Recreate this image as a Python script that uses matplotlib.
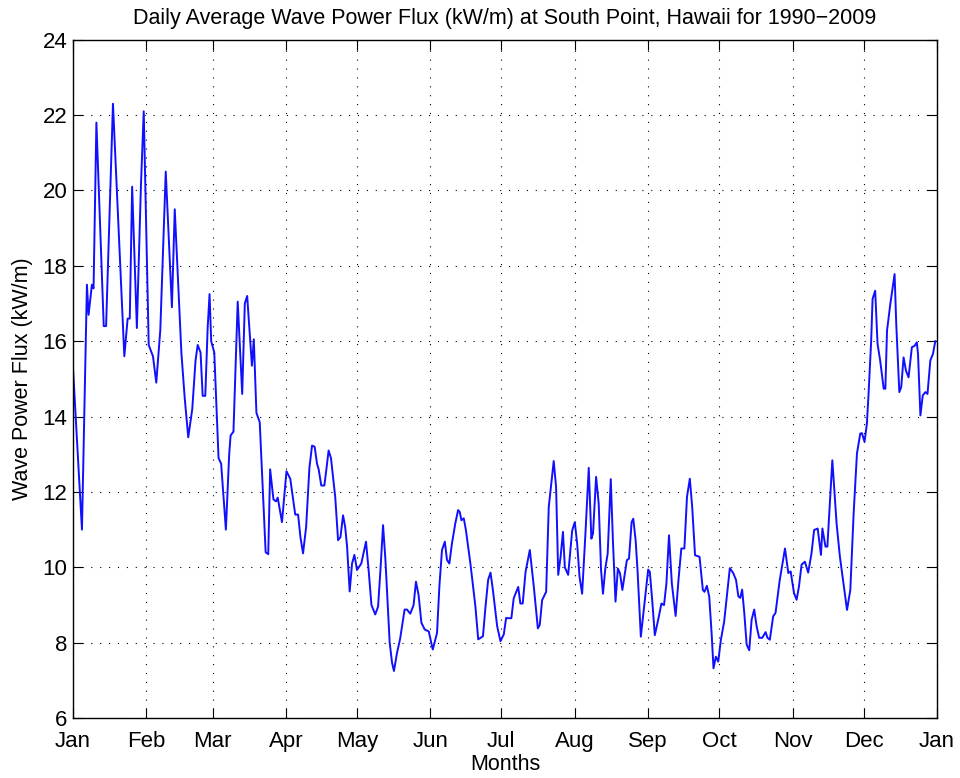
import numpy as np
import matplotlib
matplotlib.use("Agg")
import matplotlib.pyplot as plt

plt.rcParams['font.family'] = ['Liberation Sans Narrow', 'Liberation Sans', 'DejaVu Sans']

# day of year (0 = Jan 1) and daily average wave power flux (kW/m)
day = [0, 3.8, 5.2, 5.9, 6.6, 8.0, 8.7, 9.9, 13, 14, 16.9, 21.7, 23.1, 24, 25, 27,
       28.7, 29.9, 32, 33.8, 35.2, 36.9, 39.2, 41.8, 43, 45.8, 47.2, 48.7, 50.4,
       51.8, 52.7, 53.9, 54.8, 55.9, 56.9, 57.7, 58.4, 59.7, 61.5, 62.6, 64.6, 66,
       66.6, 67.8, 69.6, 71.5, 72.6, 73.6, 75.6, 76.4, 77.5, 78.9, 81.4, 82.5,
       83.3, 84.7, 85.8, 86.5, 88.3, 90.2, 91.8, 93.9, 95.1, 96.1, 97.2, 98.5,
       99.9, 101, 102.1, 103.1, 103.8, 104.9, 106.2, 107, 108, 109, 110.8, 112,
       113, 114.1, 115, 115.8, 116.9, 117.9, 118.9, 120, 121.8, 123.8, 124.9,
       126.1, 127.7, 128.9, 129.9, 131, 132, 133.8, 134.8, 135.6, 136.9, 138.2,
       140.1, 141.1, 142.5, 143.9, 144.9, 146, 147.2, 148.6, 150.3, 152, 153.8,
       154.8, 155.9, 157.1, 158, 159, 160.1, 161.5, 162.7, 163.4, 164.1, 165.1,
       166, 167.9, 170, 171.2, 173.2, 174.3, 175.4, 176.4, 177.4, 179.2, 180.6,
       182, 183, 183.8, 185.2, 186.2, 188.1, 189, 190, 191.2, 193, 194.7, 196.4,
       197.2, 198.2, 199.9, 201, 203.1, 204.1, 205, 206, 207, 207.8, 209.2,
       210.9, 212, 213, 214, 215.1, 216.5, 217.9, 219, 219.7, 221, 222.1, 223.1,
       223.9, 224.9, 225.9, 227.2, 228.1, 229.2, 230.2, 231.1, 232.1, 234,
       234.9, 236, 236.7, 237.7, 238.5, 239.9, 241.3, 243, 243.7, 244.7, 245.8,
       247.2, 248.6, 249.7, 250.7, 251.8, 253, 254.6, 255.8, 257, 258.3, 259.4,
       260.6, 261.6, 262.8, 264.7, 266.1, 266.8, 267.8, 268.8, 269.8, 270.6,
       271.6, 272.6, 273.7, 275.1, 277.5, 278.9, 280.1, 281.1, 281.9, 282.7,
       283.6, 284.6, 285.7, 286.7, 287.8, 288.8, 289.9, 291.2, 292.6, 293.4,
       294.4, 295.8, 296.8, 298.6, 300.8, 302.2, 303.2, 304.6, 305.7, 306.7,
       307.8, 309.2, 310.6, 312, 313.1, 314.6, 316, 316.6, 317.9, 318.7, 320.8,
       322.6, 324, 327, 328.4, 329.8, 331.2, 332.6, 333.3, 334.4, 335.4, 336.1,
       337.2, 337.8, 338.9, 339.9, 341, 342.5, 343.2, 343.9, 345.3, 347.1,
       347.8, 349.1, 349.9, 350.9, 351.9, 353, 354.4, 355.6, 356.5, 357, 358,
       359, 360.1, 361, 362.2, 363.3, 364.3]
flux = [15.3, 11.0, 15.3, 17.5, 16.7, 17.5, 17.4, 21.8, 16.4, 16.4, 22.3, 15.6,
        16.6, 16.6, 20.1, 16.35, 20.1, 22.1, 15.9, 15.6, 14.9, 16.3, 20.5, 16.9,
        19.5, 15.7, 14.5, 13.45, 14.2, 15.5, 15.9, 15.7, 14.55, 14.55, 16.35,
        17.25, 16.0, 15.7, 12.9, 12.75, 11.0, 13.0, 13.5, 13.6, 17.05, 14.6,
        17.0, 17.2, 15.35, 16.05, 14.1, 13.85, 10.4, 10.35, 12.6, 11.8, 11.75,
        11.85, 11.2, 12.55, 12.35, 11.4, 11.4, 10.8, 10.37, 11.07, 12.65, 13.23,
        13.2, 12.75, 12.6, 12.17, 12.17, 12.57, 13.1, 12.9, 11.86, 10.72, 10.8,
        11.38, 11.07, 10.55, 9.36, 10.1, 10.33, 9.93, 10.1, 10.68, 9.93, 9.0,
        8.75, 8.96, 9.93, 11.12, 10.2, 8.0, 7.47, 7.25, 7.73, 8.1, 8.88, 8.88,
        8.77, 9.0, 9.62, 9.27, 8.53, 8.35, 8.3, 7.82, 8.26, 9.5, 10.46, 10.68,
        10.2, 10.1, 10.63, 11.16, 11.52, 11.47, 11.25, 11.3, 10.99, 10.1, 8.97,
        8.09, 8.17, 8.97, 9.67, 9.86, 9.4, 8.44, 8.04, 8.22, 8.66, 8.65, 8.65,
        9.18, 9.48, 9.04, 9.04, 9.88, 10.46, 9.48, 8.38, 8.47, 9.13, 9.35, 11.6,
        12.82, 12.13, 9.8, 10.28, 10.94, 10.0, 9.8, 10.98, 11.2, 10.63, 9.75,
        9.3, 10.9, 12.64, 10.76, 10.9, 12.4, 11.69, 9.93, 9.3, 9.97, 10.37,
        12.34, 10.72, 9.09, 9.97, 9.84, 9.4, 10.19, 10.23, 11.2, 11.29, 10.72,
        9.93, 8.16, 8.96, 9.94, 9.88, 9.13, 8.2, 8.6, 9.04, 9.0, 9.57, 10.85,
        9.57, 8.71, 9.66, 10.5, 10.5, 11.87, 12.35, 11.6, 10.32, 10.28, 9.4,
        9.35, 9.51, 9.22, 8.25, 7.32, 7.63, 7.5, 8.07, 8.56, 9.98, 9.85, 9.67,
        9.23, 9.19, 9.41, 8.79, 7.95, 7.8, 8.61, 8.88, 8.44, 8.13, 8.13, 8.28,
        8.13, 8.08, 8.7, 8.79, 9.67, 10.5, 9.85, 9.89, 9.32, 9.14, 9.49, 10.07,
        10.15, 9.86, 10.37, 10.99, 11.03, 10.33, 11.03, 10.55, 10.55, 12.84,
        11.16, 10.28, 8.87, 9.4, 11.43, 13.02, 13.55, 13.56, 13.33, 13.81, 14.6,
        16.0, 17.12, 17.34, 15.93, 15.49, 14.74, 14.74, 16.28, 16.99, 17.78,
        16.46, 14.65, 14.78, 15.57, 15.22, 15.04, 15.84, 15.88, 15.97, 15.66,
        14.03, 14.56, 14.65, 14.6, 15.49, 15.66, 16.0]

month_starts = [0, 31, 59, 90, 120, 151, 181, 212, 243, 273, 304, 334, 365]
month_labels = ['Jan', 'Feb', 'Mar', 'Apr', 'May', 'Jun', 'Jul', 'Aug', 'Sep',
                'Oct', 'Nov', 'Dec', 'Jan']
yticks = np.arange(6, 25, 2)

fig = plt.figure(figsize=(9.6, 7.78), dpi=100)
ax = fig.add_axes([0.076, 0.077, 0.900, 0.872])

ax.plot(day, flux, color='#1010ff', linewidth=1.4)

ax.set_xlim(0, 365)
ax.set_ylim(6, 24)
ax.set_xticks(month_starts)
ax.set_xticklabels(month_labels)
ax.set_yticks(yticks)
ax.tick_params(axis='both', direction='in', length=7, width=0.8, top=True,
               right=True, labelsize=16, colors='black')
ax.tick_params(axis='x', pad=9)
ax.tick_params(axis='y', pad=4)
ax.grid(True, color='black', linestyle=(0, (1, 7)), linewidth=0.8)
for s in ax.spines.values():
    s.set_linewidth(1.0)

ax.set_title('Daily Average Wave Power Flux (kW/m) at South Point, Hawaii for 1990\u22122009',
             fontsize=15.5, pad=11)
ax.set_xlabel('Months', fontsize=15.5, labelpad=2)
ax.set_ylabel('Wave Power Flux (kW/m)', fontsize=15.5, labelpad=7)

fig.savefig('out.png', dpi=100)
